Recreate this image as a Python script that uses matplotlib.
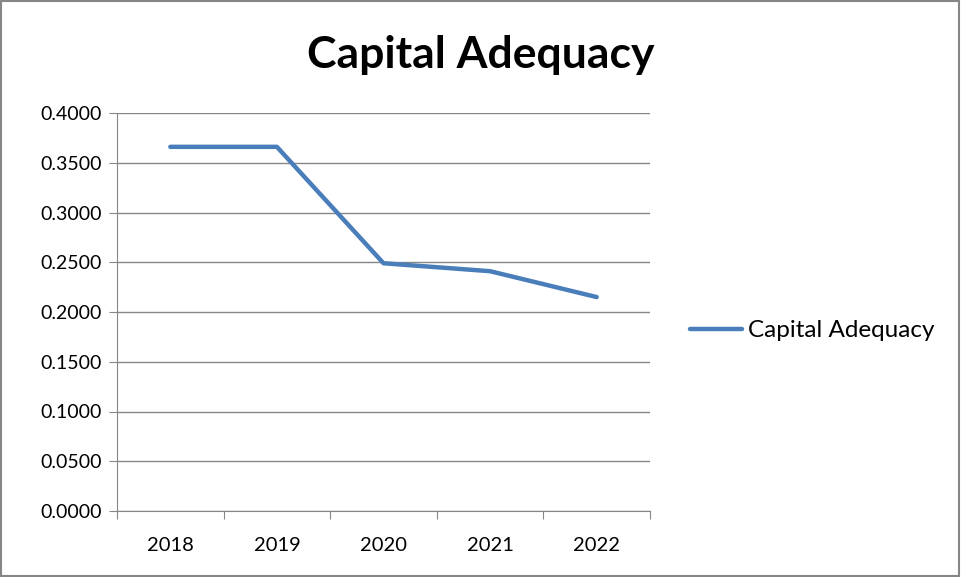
import numpy as np
import matplotlib.pyplot as plt
from matplotlib.patches import Rectangle

years = ['2018', '2019', '2020', '2021', '2022']
capital_adequacy = [0.366, 0.366, 0.249, 0.241, 0.215]
y_ticks = [0.0, 0.05, 0.10, 0.15, 0.20, 0.25, 0.30, 0.35, 0.40]

plt.rcParams['font.family'] = ['Lato', 'DejaVu Sans']

fig = plt.figure(figsize=(9.61, 5.77), dpi=100)
ax = fig.add_axes([117 / 961, 1 - 511 / 577, (650 - 117) / 961, (511 - 113) / 577])

x = np.arange(len(years))
ax.plot(x, capital_adequacy, color='#4A7EBB', linewidth=3.2,
        solid_capstyle='round', solid_joinstyle='round', label='Capital Adequacy')

ax.set_xlim(-0.5, len(years) - 0.5)
ax.set_ylim(0, 0.4)
ax.set_yticks(y_ticks)
ax.set_yticklabels([f'{v:.4f}' for v in y_ticks])

# category boundaries get the tick marks, labels sit in between
ax.set_xticks(np.arange(-0.5, len(years)), labels=[''] * (len(years) + 1))
ax.set_xticks(x, labels=years, minor=True)
ax.tick_params(axis='x', which='major', length=6, color='#868686', direction='out')
ax.tick_params(axis='x', which='minor', length=0, pad=19, labelsize=14.5)
ax.tick_params(axis='y', length=6, color='#868686', labelsize=14, pad=5)

ax.grid(axis='y', color='#868686', linewidth=1)
ax.set_axisbelow(True)
for side in ['top', 'right']:
    ax.spines[side].set_visible(False)
for side in ['left', 'bottom']:
    ax.spines[side].set_color('#868686')

fig.text(481 / 961, 1 - 55 / 577, 'Capital Adequacy', ha='center', va='center',
         fontsize=32, fontweight='bold')

ax.legend(loc='center left', bbox_to_anchor=(690 / 961, 0.427), bbox_transform=fig.transFigure,
          frameon=False, fontsize=17.5, handlelength=2.15, handletextpad=0.25,
          borderpad=0, borderaxespad=0)

fig.patches.append(Rectangle((0.001, 0.002), 0.997, 0.996, transform=fig.transFigure,
                             fill=False, edgecolor='#868686', linewidth=1.5))

fig.savefig('out.png', dpi=100)
